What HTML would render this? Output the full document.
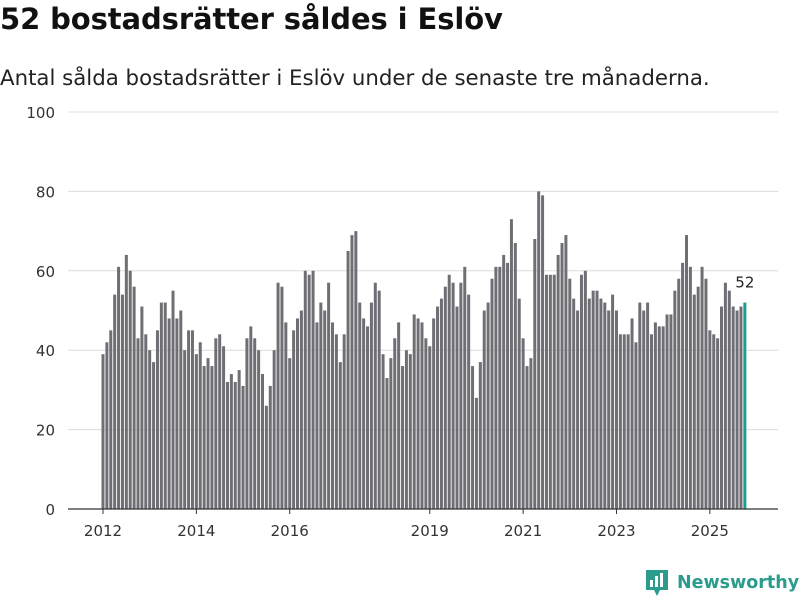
<!DOCTYPE html>
<html><head><meta charset="utf-8"><style>
body{margin:0;background:#fff;width:800px;height:600px;overflow:hidden;font-family:"Liberation Sans","DejaVu Sans",sans-serif;}
#title{position:absolute;left:0;top:2px;font-size:29px;font-weight:bold;color:#111;font-family:"DejaVu Sans","Liberation Sans",sans-serif;letter-spacing:-0.1px}
#sub{position:absolute;left:0;top:66px;font-size:21.3px;color:#222;font-family:"DejaVu Sans","Liberation Sans",sans-serif}
svg{position:absolute;left:0;top:0}
</style></head><body>
<div id="title">52 bostadsrätter såldes i Eslöv</div>
<div id="sub">Antal sålda bostadsrätter i Eslöv under de senaste tre månaderna.</div>
<svg id="chart" width="800" height="600"></svg>
<script>
const startYear = 2012;
const values = [39,42,45,54,61,54,64,60,56,43,51,44,40,37,45,52,52,48,55,48,50,40,45,45,39,42,36,38,
36,43,44,41,32,34,32,35,31,43,46,43,40,34,26,31,40,57,56,47,38,45,48,50,60,59,60,47,
52,50,57,47,44,37,44,65,69,70,52,48,46,52,57,55,39,33,38,43,47,36,40,39,49,48,47,
43,41,
48,51,53,56,59,57,51,57,61,54,36,28,37,50,52,58,61,61,64,62,73,67,53,43,36,38,68,
80,79,59,59,59,64,67,69,58,53,50,59,60,53,55,55,53,52,50,54,50,44,44,44,48,42,52,50,52,
44,47,46,46,49,49,55,58,62,69,61,54,56,61,58,45,44,43,51,57,55,51,50,51,52];
const yTicks = [0,20,40,60,80,100];
const xTickYears = [2012,2014,2016,2019,2021,2023,2025];

const NS="http://www.w3.org/2000/svg";
const svg=document.getElementById('chart');
const y0=509,yTop=112,yMax=100;
const x0=103,step=3.89,bw=3.0;
function yS(v){return y0-(v/yMax)*(y0-yTop);}
function xS(i){return x0+i*step;}
function mk(tag,attrs){const e=document.createElementNS(NS,tag);for(const k in attrs)e.setAttribute(k,attrs[k]);svg.appendChild(e);return e;}

yTicks.forEach(t=>{
  if(t>0){const g=mk('line',{x1:68,x2:778,y1:yS(t),y2:yS(t),stroke:'#dcdcdc','stroke-width':1});
  
  }
  const l=mk('text',{x:55,y:yS(t)+6,'text-anchor':'end','font-size':15,fill:'#333','font-family':'DejaVu Sans, Liberation Sans, sans-serif'});
  l.textContent=t;
  
  
});

values.forEach((v,i)=>{
  const last=i===values.length-1;
  const r=mk('rect',{x:xS(i)-bw/2,y:yS(v),width:bw,height:y0-yS(v),fill:last?'#17a091':'#6f6e74'});
  
  
});

const base=mk('line',{x1:68,x2:778,y1:y0,y2:y0,stroke:'#333','stroke-width':1.2});



xTickYears.forEach(yr=>{
  const x=xS((yr-startYear)*12);
  const tk=mk('line',{x1:x,x2:x,y1:y0,y2:y0+5,stroke:'#333','stroke-width':1});
  
  
  const l=mk('text',{x:x,y:536,'text-anchor':'middle','font-size':15,fill:'#333','font-family':'DejaVu Sans, Liberation Sans, sans-serif'});
  l.textContent=yr;
  
  
});

const li=values.length-1;
const vl=mk('text',{x:xS(li),y:yS(values[li])-15,'text-anchor':'middle','font-size':15,fill:'#222','font-family':'DejaVu Sans, Liberation Sans, sans-serif'});
vl.textContent=values[li];


</script>
<div style="position:absolute;left:644px;top:568px;height:30px;display:flex;align-items:center">
  <svg width="26" height="30" style="position:static">
    <path d="M2 2h22v20h-8l-3 6-3-6H2z" fill="#2b9b8c"/>
    <rect x="6" y="12" width="3" height="7" fill="#fff"/><rect x="11" y="8" width="3" height="11" fill="#fff"/><rect x="16" y="5" width="3" height="14" fill="#fff"/>
  </svg>
  <span style="margin-left:7px;font-size:17.5px;font-weight:bold;color:#2b9b8c;font-family:'DejaVu Sans','Liberation Sans',sans-serif">Newsworthy</span>
</div>
</body></html>
